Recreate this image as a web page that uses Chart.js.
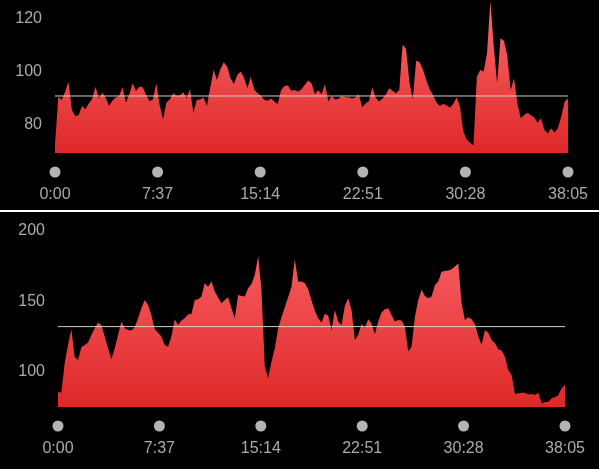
<!doctype html>
<html lang="en">
<head>
<meta charset="utf-8">
<title>Heart rate</title>
<script src="https://cdn.jsdelivr.net/npm/chart.js"></script>
<style>
  html, body { margin: 0; background: #000; }
  body { width: 599px; height: 469px; position: relative; overflow: hidden; }
  canvas { position: absolute; left: 0; }
  #topChart { top: 0; }
  #sep { position: absolute; left: 0; top: 210px; width: 599px; height: 2px; background: #fff; }
  #bottomChart { top: 213px; }
</style>
</head>
<body>
<canvas id="topChart" width="599" height="210"></canvas>
<div id="sep"></div>
<canvas id="bottomChart" width="599" height="256"></canvas>
<script>
// workout length in seconds and the x tick positions (0:00 ... 38:05)
const totalSeconds = 2285;
const tickSeconds = [0, 457, 914, 1371, 1828, 2285];

// top panel, one reading every ~15 s
const topValues = [
  72, 89.9, 88.7, 91.8, 95.6, 84.9, 82.6, 83.0, 86.4, 85.2,
  87.4, 89.1, 93.7, 89.3, 91.4, 89.6, 86.4, 88.4, 89.6, 90.2,
  93.5, 87.7, 90.8, 95.0, 92.1, 93.7, 93.5, 90.6, 88.2, 88.9,
  95.0, 86.8, 81.4, 87.7, 88.9, 91.2, 90.3, 90.4, 91.6, 89.3,
  92.8, 83.9, 88.7, 88.9, 89.6, 86.4, 93.5, 100, 96.2, 100.3,
  102.9, 101.3, 96.9, 94.7, 98.1, 99.4, 97.2, 93.1, 97.5, 92.7,
  91.2, 90.4, 88.7, 88.4, 89.3, 88.1, 87.2, 92.5, 94.0, 94.2,
  92.2, 92.5, 91.8, 92.7, 94.3, 96.0, 95.0, 90.9, 92.5, 90.8,
  94.7, 88.1, 90.2, 88.9, 89.2, 90.3, 89.7, 89.7, 89.3, 89.6,
  90.9, 86.0, 87.4, 88.2, 93.5, 89.6, 88.1, 89.2, 90.7, 93.1,
  92.2, 91.2, 92.5, 109.5, 108.0, 95.6, 89.0, 103.5, 103.0, 100.3,
  96.2, 92.7, 90.6, 87.7, 86.4, 87.2, 86.7, 85.9, 87.2, 89.7,
  86.2, 76.7, 73.8, 72.6, 71.5, 97.5, 100, 99.4, 106.3, 126,
  108.8, 95.0, 112.0, 111.0, 105.7, 92.5, 96.9, 87.4, 81.8, 83.0,
  83.9, 83.0, 82.1, 80.1, 81.8, 77.4, 76.1, 78.0, 76.4, 78.0,
  82.4, 88.1, 89.3
];
const topAverage = 90.2;
const topYTicks = [80, 100, 120];

// bottom panel, one reading every ~15 s
const bottomValues = [
  84, 83.3, 104.3, 117.3, 128.5, 109.0, 106.6, 115.7, 117.3, 119.0,
  124.5, 129.2, 133.3, 131.6, 123.3, 115.0, 107.1, 115.0, 124.5, 134.0,
  129.2, 128.0, 127.6, 129.9, 136.4, 143.5, 149.4, 145.9, 138.7, 128.5,
  126.1, 123.3, 117.3, 116.1, 123.3, 135.6, 131.6, 134.7, 136.4, 139.2,
  139.4, 149.4, 149.9, 151.8, 161.3, 158.9, 162.5, 155.4, 151.1, 147.1,
  149.4, 151.3, 143.5, 136.4, 153.0, 152.3, 151.8, 157.7, 160.8, 167.2,
  180.5, 156.6, 101.9, 93.6, 105.4, 115.0, 129.2, 137.1, 144.2, 151.3,
  158.9, 178.4, 162.3, 162.5, 161.3, 157.0, 149.0, 141.8, 136.4, 133.3,
  139.5, 138.3, 127.6, 142.3, 134.0, 131.6, 145.1, 150.6, 142.3, 120.9,
  124.5, 132.3, 129.5, 135.6, 132.8, 124.9, 134.0, 140.4, 142.8, 143.5,
  138.7, 134.0, 135.2, 134.7, 130.4, 112.6, 116.1, 137.5, 149.4, 156.6,
  152.3, 150.6, 151.8, 160.1, 162.5, 169.6, 170.1, 170.4, 171.3, 173.2,
  175.5, 147.1, 135.2, 137.1, 135.6, 132.3, 123.3, 117.3, 128.0, 126.1,
  120.9, 118.5, 114.2, 113.3, 109.0, 99.5, 95.9, 82.4, 82.9, 83.3,
  83.3, 82.1, 82.4, 81.7, 83.3, 75.7, 76.7, 76.9, 79.3, 80.0,
  81.7, 86.4, 88.8
];
const bottomAverage = 130.4;
const bottomYTicks = [100, 150, 200];

const labelFont = { family: "'Helvetica Neue', Helvetica, 'Liberation Sans', Arial, sans-serif", size: 16 };

function fmt(s) {
  const m = Math.floor(s / 60);
  const r = Math.round(s % 60);
  return m + ':' + String(r).padStart(2, '0');
}

// grey dots above each time label
const tickDots = {
  id: 'tickDots',
  afterDraw(chart) {
    const xs = chart.scales.x;
    const ctx = chart.ctx;
    ctx.save();
    ctx.fillStyle = '#b4b4b4';
    tickSeconds.forEach(s => {
      ctx.beginPath();
      ctx.arc(xs.getPixelForValue(s), chart.chartArea.bottom + 19, 5.5, 0, Math.PI * 2);
      ctx.fill();
    });
    ctx.restore();
  }
};

function panel(id, values, avg, yMin, yMax, yTicks, yWidth, rightPad, xHeight) {
  const step = totalSeconds / (values.length - 1);
  const pts = values.map((v, i) => ({ x: i * step, y: v }));
  return new Chart(document.getElementById(id), {
    type: 'line',
    data: {
      datasets: [
        {
          data: pts,
          order: 1,
          fill: 'start',
          backgroundColor: c => {
            const a = c.chart.chartArea;
            if (!a) return '#ea3c3f';
            const g = c.chart.ctx.createLinearGradient(0, a.top, 0, a.bottom);
            g.addColorStop(0, '#fb6a6e');
            g.addColorStop(1, '#df2828');
            return g;
          },
          borderWidth: 0,
          borderColor: 'rgba(0,0,0,0)',
          pointRadius: 0,
          tension: 0
        },
        {
          data: [{ x: 0, y: avg }, { x: totalSeconds, y: avg }],
          order: 0,
          fill: false,
          borderColor: '#d0d0d0',
          borderWidth: 1,
          pointRadius: 0
        }
      ]
    },
    options: {
      responsive: false,
      animation: false,
      devicePixelRatio: 1,
      layout: { padding: { top: 0, right: rightPad, left: 0, bottom: 0 } },
      plugins: { legend: { display: false }, tooltip: { enabled: false } },
      scales: {
        x: {
          type: 'linear',
          min: 0,
          max: totalSeconds,
          grid: { display: false },
          border: { display: false },
          afterBuildTicks: s => { s.ticks = tickSeconds.map(v => ({ value: v })); },
          afterFit: s => { s.height = xHeight; s.paddingLeft = 0; s.paddingRight = 0; },
          ticks: {
            padding: 24,
            color: '#ababab',
            font: labelFont,
            maxRotation: 0,
            autoSkip: false,
            callback: v => fmt(v)
          }
        },
        y: {
          min: yMin,
          max: yMax,
          grid: { display: false },
          border: { display: false },
          afterBuildTicks: s => { s.ticks = yTicks.map(v => ({ value: v })); },
          afterFit: s => { s.width = yWidth; s.paddingTop = 0; s.paddingBottom = 0; },
          ticks: { padding: 5, labelOffset: 2, color: '#ababab', font: labelFont }
        }
      }
    },
    plugins: [tickDots]
  });
}

panel('topChart', topValues, topAverage, 68.7, 126.4, topYTicks, 55, 31, 57);
panel('bottomChart', bottomValues, bottomAverage, 73.1, 211.4, bottomYTicks, 58, 34, 62);
</script>
</body>
</html>
